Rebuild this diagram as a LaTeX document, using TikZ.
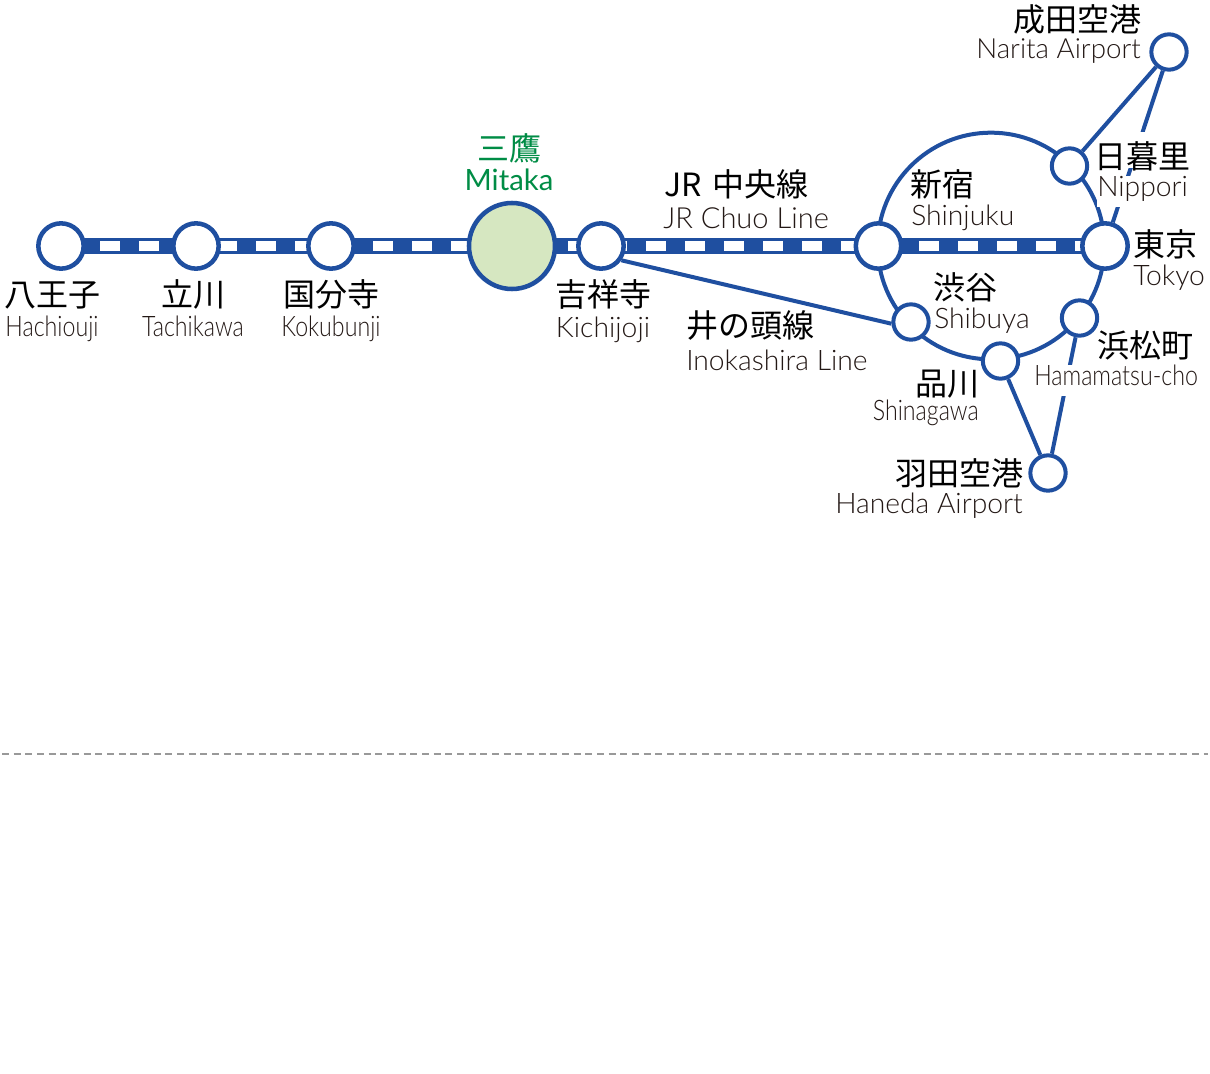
\documentclass[tikz,border=0pt]{standalone}
\usepackage{fontspec}
\usepackage{xcolor}
\usetikzlibrary{backgrounds}
\setmainfont{Noto Sans CJK JP}
\newfontfamily\latinfont{Lato}[UprightFont=* Light]
\newfontfamily\narrowfont{Lato}[UprightFont=* Light, FakeStretch=0.82]
\newfontfamily\greenfont{Lato}
\definecolor{railblue}{HTML}{1F4FA0}
\definecolor{mitakagreen}{HTML}{D6E7C1}
\definecolor{kanjigreen}{HTML}{008C45}
\definecolor{romaink}{HTML}{231815}
\begin{document}
\begin{tikzpicture}[
  x=0.75pt, y=-0.75pt,
  bigst/.style={circle, draw=railblue, line width=3.4pt, fill=white, inner sep=0pt, minimum size=34pt},
  smallst/.style={circle, draw=railblue, line width=3pt, fill=white, inner sep=0pt, minimum size=26.5pt},
  kanji/.style={inner sep=0pt, font=\fontsize{24pt}{24pt}\selectfont},
  romaji/.style={inner sep=0pt, text=romaink, font=\fontsize{21.2pt}{21.2pt}\latinfont},
  narrow/.style={inner sep=0pt, text=romaink, font=\fontsize{21.2pt}{21.2pt}\narrowfont},
  gaptop/.style={fill=white, text height=27pt, text depth=0pt},
  gapbot/.style={fill=white, text height=15pt, text depth=8.5pt},
  arr/.style={draw=railblue, line width=3pt},
]
  \useasboundingbox (0,0) rectangle (1210,1074);
  % Anillo
  \node[circle, draw=railblue, line width=3pt, inner sep=0pt, minimum size=170pt] (loop) at (991,246) {};
  % Estaciones
  \node[bigst] (hachi)   at (61,246) {};
  \node[bigst] (tachi)   at (196,246) {};
  \node[bigst] (koku)    at (331,246) {};
  \node[bigst, fill=mitakagreen, minimum size=64.5pt] (mitaka) at (512,246) {};
  \node[bigst] (kichi)   at (601,246) {};
  \node[bigst] (shinju)  at (878.5,246) {};
  \node[bigst] (tokyo)   at (1105,246) {};
  \node[smallst] (narita)  at (1169,52) {};
  \node[smallst] (nippori) at (1069.5,166) {};
  \node[smallst] (shibuya) at (911,322) {};
  \node[smallst] (shina)   at (1000.5,361) {};
  \node[smallst] (hama)    at (1079.5,318) {};
  \node[smallst] (haneda)  at (1048,473) {};
  % Rotulos
  \node[kanji, anchor=base]      (hachiJ)  at (52,306) {八王子};
  \node[narrow, anchor=base]     (hachiE)  at (52,336) {Hachiouji};
  \node[kanji, anchor=base]      (tachiJ)  at (193,306) {立川};
  \node[narrow, anchor=base]     (tachiE)  at (193,336) {Tachikawa};
  \node[kanji, anchor=base]      (kokuJ)   at (331,306) {国分寺};
  \node[narrow, anchor=base]     (kokuE)   at (331,336) {Kokubunji};
  \node[kanji, anchor=base, text=kanjigreen] (mitakaJ) at (509,160) {三鷹};
  \node[romaji, anchor=base, text=kanjigreen, font=\fontsize{22pt}{22pt}\greenfont] (mitakaE) at (509,190.5) {Mitaka};
  \node[kanji, anchor=base]      (kichiJ)  at (603,306) {吉祥寺};
  \node[romaji, anchor=base]     (kichiE)  at (603,337) {Kichijoji};
  \node[kanji, anchor=base west] (chuoJ)   at (664,196.5) {JR\hspace{3pt} 中央線};
  \node[romaji, anchor=base west, font=\fontsize{21.8pt}{21.8pt}\latinfont] (chuoE)  at (663,228.5) {JR Chuo Line};
  \node[kanji, anchor=base west] (inoJ)    at (686,337) {井の頭線};
  \node[romaji, anchor=base west] (inoE)   at (686,370) {Inokashira Line};
  \node[kanji, anchor=base west] (shinjuJ) at (910,196) {新宿};
  \node[romaji, anchor=base west] (shinjuE) at (911,225) {Shinjuku};
  \node[kanji, anchor=base east] (naritaJ) at (1142,32) {成田空港};
  \node[romaji, anchor=base east, font=\fontsize{20.8pt}{20.8pt}\latinfont] (naritaE) at (1141,59) {Narita Airport};
  \node[kanji, gaptop, anchor=base west] (nipporiJ) at (1094,168) {日暮里};
  \node[romaji, gapbot, anchor=base west] (nipporiE) at (1097,196) {Nippori};
  \node[kanji, anchor=base west] (tokyoJ)  at (1133,256) {東京};
  \node[romaji, anchor=base west] (tokyoE) at (1133,285) {Tokyo};
  \node[kanji, anchor=base west] (shibuyaJ) at (933,299) {渋谷};
  \node[romaji, anchor=base west] (shibuyaE) at (934,328) {Shibuya};
  \node[kanji, anchor=base west] (hamaJ)   at (1097,357) {浜松町};
  \node[narrow, gapbot, anchor=base west] (hamaE) at (1034,385) {Hamamatsu-cho};
  \node[kanji, anchor=base east] (shinaJ)  at (980,395) {品川};
  \node[narrow, anchor=base east] (shinaE) at (979,420.5) {Shinagawa};
  \node[kanji, anchor=base east] (hanedaJ) at (1024,485) {羽田空港};
  \node[romaji, anchor=base east] (hanedaE) at (1023,513) {Haneda Airport};
  % Separador
  \coordinate (sepL) at (2,754);
  \coordinate (sepR) at (1208,754);
  \draw[gray!80, line width=1.5pt, dash pattern=on 5.25pt off 3.5pt] (sepL) -- (sepR);
  % Lineas
  \draw[arr] (narita) -- (nippori);
  \begin{scope}[on background layer]
    \draw[railblue, line width=12pt] (hachi.center) -- (tokyo.center);
    \draw[white, line width=7pt, dash pattern=on 15pt off 14.25pt] (hachi.center) -- (tokyo.center);
    \draw[arr] (kichi.-35) -- (shibuya.185);
    \draw[arr] (narita) -- (tokyo);
    \draw[arr] (shina) -- (haneda);
    \draw[arr] (hama) -- (haneda);
  \end{scope}
\end{tikzpicture}
\end{document}
